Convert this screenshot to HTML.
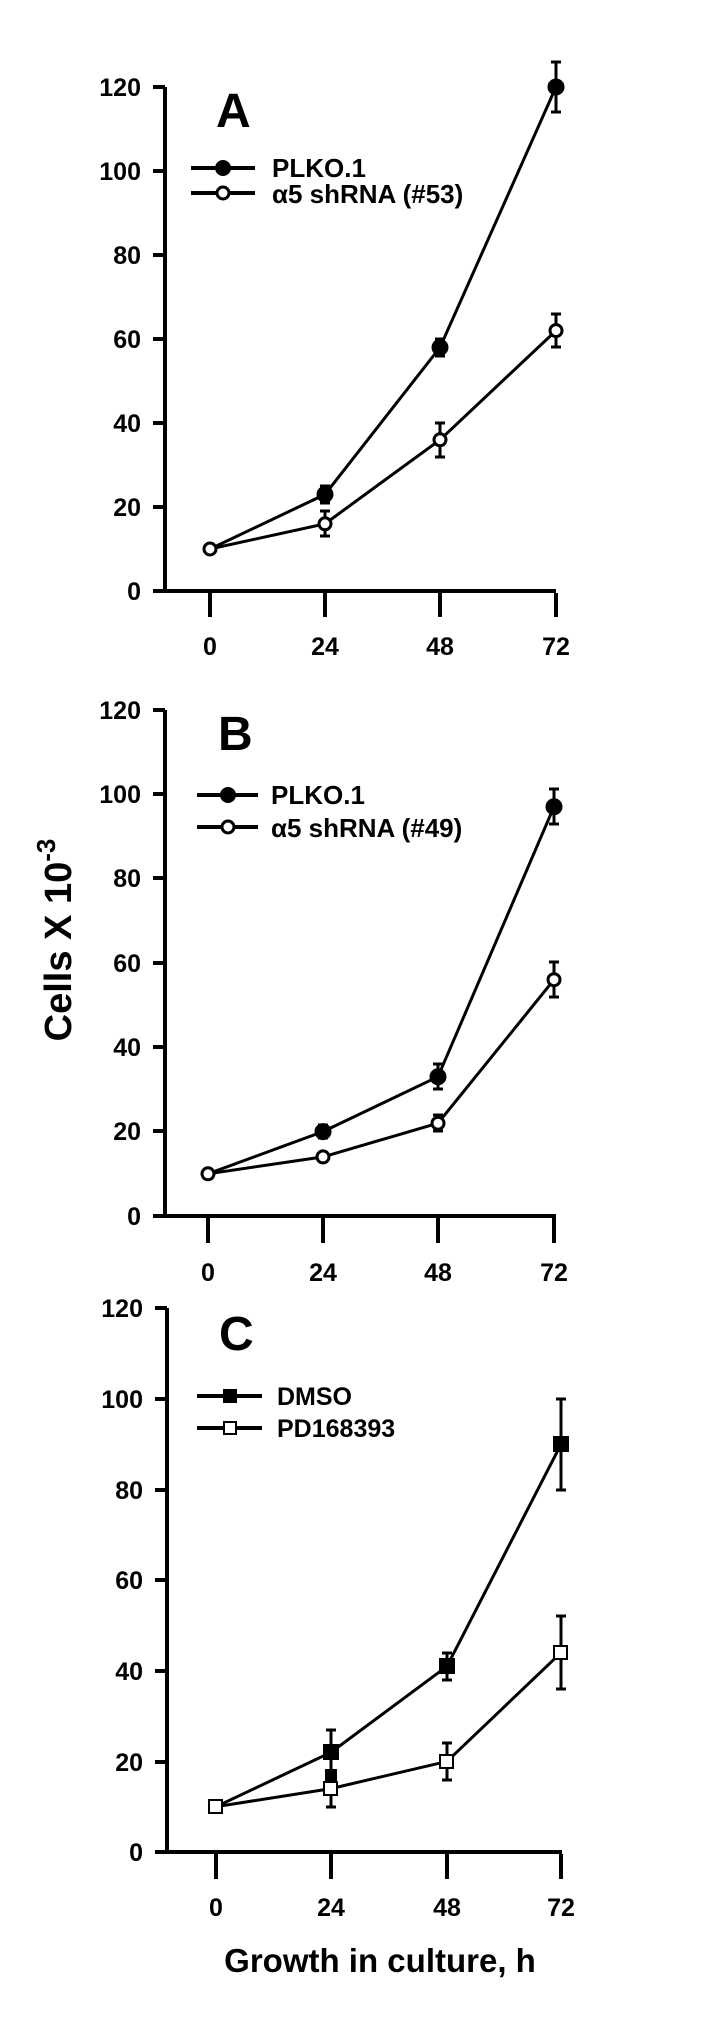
<!DOCTYPE html>
<html><head><meta charset="utf-8"><style>
html,body{margin:0;padding:0;background:#fff;}
svg{display:block;}
text{font-family:"Liberation Sans",Arial,sans-serif;fill:#000;}
.t{font-size:25px;text-anchor:end;font-weight:bold;}
.x{font-size:25px;text-anchor:middle;font-weight:bold;}
.lg{font-size:26px;font-weight:bold;}
.p{font-size:48px;font-weight:bold;}
</style></head><body>
<svg width="720" height="2024" viewBox="0 0 720 2024" xmlns="http://www.w3.org/2000/svg">
<g stroke="#000" stroke-width="4" fill="none">
<path d="M165 87 V591 M153 591 H556"/>
<path d="M153 87H165 M153 171H165 M153 255H165 M153 339H165 M153 423H165 M153 507H165"/>
<path d="M210 593V617 M325 593V617 M440 593V617 M556 593V617"/>
<path d="M165 710 V1216 M153 1216 H556"/>
<path d="M153 710H165 M153 794H165 M153 878H165 M153 963H165 M153 1047H165 M153 1131H165"/>
<path d="M208 1218V1243 M323 1218V1243 M438 1218V1243 M554 1218V1243"/>
<path d="M167 1308 V1852 M155 1852 H562"/>
<path d="M155 1308H167 M155 1399H167 M155 1490H167 M155 1580H167 M155 1671H167 M155 1762H167"/>
<path d="M216 1854V1879 M331 1854V1879 M447 1854V1879 M561 1854V1879"/>
</g>
<text class="t" x="141" y="96">120</text><text class="t" x="141" y="180">100</text><text class="t" x="141" y="264">80</text><text class="t" x="141" y="348">60</text><text class="t" x="141" y="432">40</text><text class="t" x="141" y="516">20</text><text class="t" x="141" y="600">0</text>
<text class="t" x="141" y="719">120</text><text class="t" x="141" y="803">100</text><text class="t" x="141" y="887">80</text><text class="t" x="141" y="972">60</text><text class="t" x="141" y="1056">40</text><text class="t" x="141" y="1140">20</text><text class="t" x="141" y="1225">0</text>
<text class="t" x="143" y="1317">120</text><text class="t" x="143" y="1408">100</text><text class="t" x="143" y="1499">80</text><text class="t" x="143" y="1589">60</text><text class="t" x="143" y="1680">40</text><text class="t" x="143" y="1771">20</text><text class="t" x="143" y="1861">0</text>
<text class="x" x="210" y="655">0</text><text class="x" x="325" y="655">24</text><text class="x" x="440" y="655">48</text><text class="x" x="556" y="655">72</text>
<text class="x" x="208" y="1281">0</text><text class="x" x="323" y="1281">24</text><text class="x" x="438" y="1281">48</text><text class="x" x="554" y="1281">72</text>
<text class="x" x="216" y="1916">0</text><text class="x" x="331" y="1916">24</text><text class="x" x="447" y="1916">48</text><text class="x" x="561" y="1916">72</text>
<text class="p" x="216" y="127">A</text>
<text class="p" x="218" y="750">B</text>
<text class="p" x="219" y="1350">C</text>
<text font-size="38" font-weight="bold" transform="translate(71,940) rotate(-90)" text-anchor="middle">Cells X 10<tspan font-size="26" dy="-16">-3</tspan></text>
<text x="380" y="1972" font-size="33" font-weight="bold" text-anchor="middle">Growth in culture, h</text>

<g stroke="#000" stroke-width="3" fill="none">
<polyline points="210,549 325,494.4 440,347.4 556,87"/>
<polyline points="210,549 325,523.8 440,439.8 556,330.6"/>
<path d="M325 486V503 M320 486H330 M320 503H330 M440 339V356 M435 339H445 M435 356H445 M556 62V112 M551 62H561 M551 112H561"/>
<path d="M325 511V536 M320 511H330 M320 536H330 M440 423V457 M435 423H445 M435 457H445 M556 314V347 M551 314H561 M551 347H561"/>
</g>
<g stroke="#000" stroke-width="3">
<circle cx="325" cy="494.4" r="7" fill="#000"/><circle cx="440" cy="347.4" r="7" fill="#000"/><circle cx="556" cy="87" r="7" fill="#000"/>
<circle cx="210" cy="549" r="6" fill="#fff"/><circle cx="325" cy="523.8" r="6" fill="#fff"/><circle cx="440" cy="439.8" r="6" fill="#fff"/><circle cx="556" cy="330.6" r="6" fill="#fff"/>
</g>
<g stroke="#000" stroke-width="4"><path d="M191 168H255 M191 193H255"/></g>
<circle cx="223" cy="168" r="8" fill="#000"/>
<circle cx="223" cy="193" r="6" fill="#fff" stroke="#000" stroke-width="3"/>
<text class="lg" x="272" y="177">PLKO.1</text>
<text class="lg" x="272" y="203">α5 shRNA (#53)</text>

<g stroke="#000" stroke-width="3" fill="none">
<polyline points="208,1173.8 323,1131.6 438,1076.7 554,806.7"/>
<polyline points="208,1173.8 323,1156.9 438,1123.2 554,979.7"/>
<path d="M323 1125V1138 M318 1125H328 M318 1138H328 M438 1064V1089 M433 1064H443 M433 1089H443 M554 789V824 M549 789H559 M549 824H559"/>
<path d="M438 1115V1131 M433 1115H443 M433 1131H443 M554 962V997 M549 962H559 M549 997H559"/>
</g>
<g stroke="#000" stroke-width="3">
<circle cx="323" cy="1131.6" r="7" fill="#000"/><circle cx="438" cy="1076.7" r="7" fill="#000"/><circle cx="554" cy="806.7" r="7" fill="#000"/>
<circle cx="208" cy="1173.8" r="6" fill="#fff"/><circle cx="323" cy="1156.9" r="6" fill="#fff"/><circle cx="438" cy="1123.2" r="6" fill="#fff"/><circle cx="554" cy="979.7" r="6" fill="#fff"/>
</g>
<g stroke="#000" stroke-width="4"><path d="M197 795H258 M197 827H258"/></g>
<circle cx="228" cy="795" r="8" fill="#000"/>
<circle cx="228" cy="827" r="6" fill="#fff" stroke="#000" stroke-width="3"/>
<text class="lg" x="271" y="804">PLKO.1</text>
<text class="lg" x="271" y="837">α5 shRNA (#49)</text>

<g stroke="#000" stroke-width="3" fill="none">
<polyline points="216,1806.7 331,1752.3 447,1666.3 561,1444.3"/>
<polyline points="216,1806.7 331,1788.6 447,1761.4 561,1652.7"/>
<path d="M331 1730V1775 M326 1730H336 M326 1775H336 M447 1653V1680 M442 1653H452 M442 1680H452 M561 1399V1490 M556 1399H566 M556 1490H566"/>
<path d="M331 1770V1807 M326 1807H336 M447 1743V1780 M442 1743H452 M442 1780H452 M561 1616V1689 M556 1616H566 M556 1689H566"/>
</g>
<g stroke="#000" stroke-width="2">
<rect x="324" y="1745" width="14" height="14" fill="#000"/><rect x="440" y="1659" width="14" height="14" fill="#000"/><rect x="554" y="1437" width="14" height="14" fill="#000"/>
<rect x="326" y="1770" width="10" height="10" fill="#000"/>
<rect x="209" y="1800" width="13" height="13" fill="#fff"/><rect x="324" y="1782" width="13" height="13" fill="#fff"/><rect x="440" y="1755" width="13" height="13" fill="#fff"/><rect x="554" y="1646" width="13" height="13" fill="#fff"/>
</g>
<g stroke="#000" stroke-width="4"><path d="M197 1396H262 M197 1428H262"/></g>
<rect x="223" y="1389" width="14" height="14" fill="#000"/>
<rect x="224" y="1422" width="12" height="12" fill="#fff" stroke="#000" stroke-width="2"/>
<text x="277" y="1405" font-size="25" font-weight="bold">DMSO</text>
<text x="277" y="1437" font-size="25" font-weight="bold">PD168393</text>
</svg>
</body></html>
